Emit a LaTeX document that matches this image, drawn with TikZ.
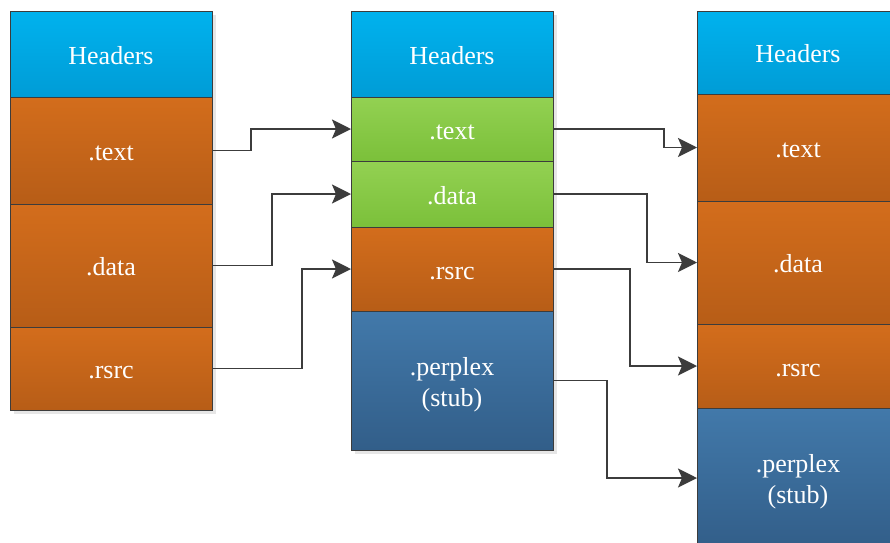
\documentclass[tikz,border=0pt]{standalone}
\usepackage{fontspec}
\setmainfont{Liberation Serif}
\usetikzlibrary{arrows.meta}
\definecolor{hdrT}{HTML}{00B2EE}
\definecolor{hdrB}{HTML}{009CD6}
\definecolor{orT}{HTML}{D36D1C}
\definecolor{orB}{HTML}{B75D17}
\definecolor{grT}{HTML}{93D152}
\definecolor{grB}{HTML}{7BC03A}
\definecolor{blT}{HTML}{4279AA}
\definecolor{blB}{HTML}{325E89}
\definecolor{edge}{HTML}{3C3C3C}
\definecolor{shadowc}{HTML}{E6E6E6}
\newcommand{\lowstrut}{\rule{0pt}{26pt}}
\tikzset{
  sect/.style={draw=edge, line width=0.9pt, inner sep=0pt, outer sep=0pt, anchor=north west,
    text=white, font=\fontsize{26}{31}\selectfont, align=center, minimum width=202pt},
  onel/.style={text height=21pt},
  hdr/.style={sect, onel, top color=hdrT, bottom color=hdrB},
  ora/.style={sect, onel, top color=orT, bottom color=orB},
  grn/.style={sect, onel, top color=grT, bottom color=grB},
  stl/.style={sect, top color=blT, bottom color=blB},
  conn/.style={draw=edge, line width=1.9pt, -{Stealth[length=19pt,width=19pt,inset=4pt]}},
  shadowbox/.style={fill=shadowc, draw=none}
}
\begin{document}
\begin{tikzpicture}[x=1pt,y=-1pt]
\useasboundingbox (0,0) rectangle (890,542);
\clip (0,0) rectangle (890,542);
\fill[white] (0,0) rectangle (890,542);
% shadows
\path[shadowbox] (14,15) rectangle (216,414);
\path[shadowbox] (355,15) rectangle (557,454);
% left column
\node[hdr, minimum height=86pt] (L1) at (10,11) {Headers};
\node[ora, minimum height=107pt] (L2) at (10,97) {.text};
\node[ora, minimum height=123pt] (L3) at (10,204) {.data};
\node[ora, minimum height=83pt] (L4) at (10,327) {.rsrc};
% middle column
\node[hdr, minimum height=86pt] (M1) at (351,11) {Headers};
\node[grn, minimum height=64pt] (M2) at (351,97) {.text};
\node[grn, minimum height=66pt] (M3) at (351,161) {.data};
\node[ora, minimum height=84pt] (M4) at (351,227) {.rsrc};
\node[stl, minimum height=139pt] (M5) at (351,311) {\lowstrut.perplex\\(stub)};
% right column
\node[hdr, minimum height=83pt] (R1) at (697,11) {Headers};
\node[ora, minimum height=107pt] (R2) at (697,94) {.text};
\node[ora, minimum height=123pt] (R3) at (697,201) {.data};
\node[ora, minimum height=84pt] (R4) at (697,324) {.rsrc};
\node[stl, minimum height=140pt] (R5) at (697,408) {\lowstrut.perplex\\(stub)};
% connectors left -> middle
\draw[conn] (L2.east) -- ++(39,0) |- (M2.west);
\draw[conn] (L3.east) -- ++(60,0) |- (M3.west);
\draw[conn] (L4.east) -- ++(90,0) |- (M4.west);
% connectors middle -> right
\draw[conn] (M2.east) -- ++(111,0) |- (R2.west);
\draw[conn] (M3.east) -- ++(94,0) |- (R3.west);
\draw[conn] (M4.east) -- ++(77,0) |- (R4.west);
\draw[conn] (M5.east) -- ++(54,0) |- (R5.west);
\end{tikzpicture}
\end{document}
